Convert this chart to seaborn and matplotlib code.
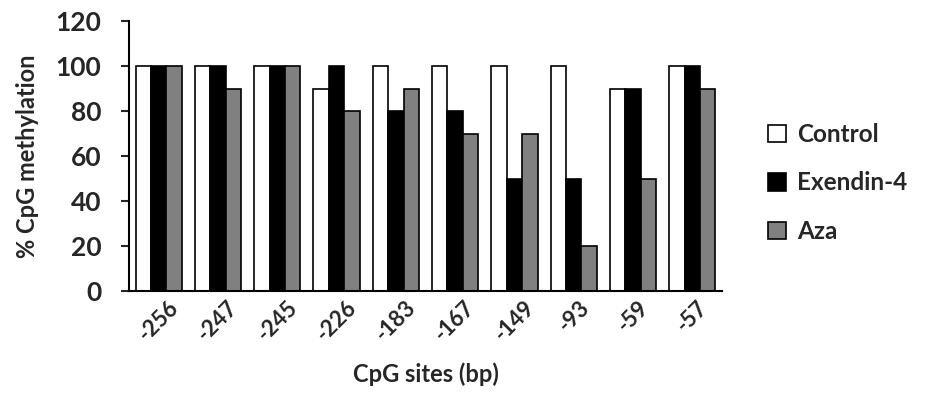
import matplotlib
matplotlib.use('Agg')
import matplotlib.pyplot as plt
import seaborn as sns
import pandas as pd
from matplotlib.patches import Patch

# data
sites = ['-256', '-247', '-245', '-226', '-183', '-167', '-149', '-93', '-59', '-57']
control = [100, 100, 100, 90, 100, 100, 100, 100, 90, 100]
exendin = [100, 100, 100, 100, 80, 80, 50, 50, 90, 100]
aza = [100, 90, 100, 80, 90, 70, 70, 20, 50, 90]
groups = ['Control', 'Exendin-4', 'Aza']
colors = ['white', 'black', '#808080']

df = pd.DataFrame({
    'site': sites * 3,
    'value': control + exendin + aza,
    'group': [g for g in groups for _ in sites],
})

sns.set_style('white')
plt.rcParams['font.family'] = ['Lato', 'DejaVu Sans']
plt.rcParams['font.weight'] = 'bold'

fig = plt.figure(figsize=(9.28, 4), dpi=100)
ax = fig.add_axes([0.139, 0.2725, 0.639, 0.675])

sns.barplot(data=df, x='site', y='value', hue='group', hue_order=groups,
            palette=colors, edgecolor='black', linewidth=1.2, width=0.78,
            saturation=1, ax=ax, legend=False)

ax.set_ylim(0, 120)
ax.set_yticks(range(0, 121, 20))
ax.set_xlim(-0.5, len(sites) - 0.5)
ax.tick_params(axis='y', direction='out', length=6, width=1.5, labelsize=19,
               left=True, pad=14)
ax.tick_params(axis='x', length=0, labelsize=16, pad=4)
plt.setp(ax.get_xticklabels(), rotation=45, ha='center', va='top')
for lab in ax.get_yticklabels() + ax.get_xticklabels():
    lab.set_fontweight('bold')

for s in ['top', 'right']:
    ax.spines[s].set_visible(False)
for s in ['left', 'bottom']:
    ax.spines[s].set_color('black')
    ax.spines[s].set_linewidth(1.5)

ax.set_ylabel('% CpG methylation', fontsize=17, fontweight='bold', labelpad=12)
ax.set_xlabel('CpG sites (bp)', fontsize=17, fontweight='bold', labelpad=13)

handles = [Patch(facecolor=c, edgecolor='black', linewidth=1.2) for c in colors]
ax.legend(handles, groups, loc='center left', bbox_to_anchor=(1.04, 0.4),
          frameon=False, handlelength=0.75, handleheight=0.75,
          labelspacing=1.05, handletextpad=0.45,
          prop={'weight': 'bold', 'size': 17.5})

fig.savefig('out.png', dpi=100)
